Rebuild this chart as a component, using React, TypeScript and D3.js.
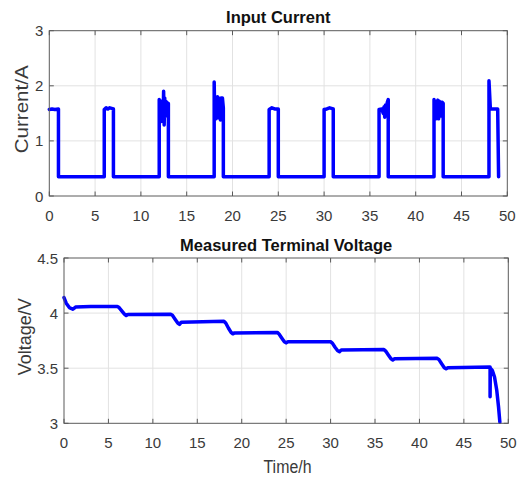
import React from "react";
import * as d3 from "d3";

const xTicks = [0, 5, 10, 15, 20, 25, 30, 35, 40, 45, 50];
const currentTicks = [0, 1, 2, 3];
const voltageTicks = [3, 3.5, 4, 4.5];

const currentPoints: [number, number][] = [
  [0, 1.57], [0.3, 1.58], [0.6, 1.57], [1.0, 1.58], [1.0, 0.35],
  [6.0, 0.35], [6.0, 1.57], [6.2, 1.6], [6.4, 1.58], [6.6, 1.6], [7.0, 1.58], [7.0, 0.35],
  [12.0, 0.35], [12.0, 1.75], [12.06, 1.4], [12.12, 1.7], [12.18, 1.35], [12.24, 1.72], [12.3, 1.45],
  [12.36, 1.68], [12.42, 1.4], [12.48, 1.9], [12.54, 1.29], [12.6, 1.78], [12.66, 1.45], [12.72, 1.72],
  [12.78, 1.5], [12.85, 1.7], [12.92, 1.55], [13.0, 1.68], [13.0, 0.35],
  [18.0, 0.35], [18.0, 2.07], [18.06, 1.45], [18.12, 1.8], [18.18, 1.4], [18.24, 1.78], [18.3, 1.5],
  [18.36, 1.8], [18.42, 1.42], [18.5, 1.78], [18.56, 1.45], [18.62, 1.75], [18.68, 1.38], [18.75, 1.78],
  [18.82, 1.5], [18.9, 1.78], [19.0, 1.6], [19.0, 0.35],
  [24.0, 0.35], [24.0, 1.57], [24.3, 1.6], [24.6, 1.58], [25.0, 1.58], [25.0, 0.35],
  [30.0, 0.35], [30.0, 1.57], [30.3, 1.58], [30.6, 1.6], [31.0, 1.58], [31.0, 0.35],
  [36.0, 0.35], [36.0, 1.57], [36.3, 1.58], [36.45, 1.5], [36.55, 1.62], [36.62, 1.43], [36.7, 1.65],
  [36.8, 1.6], [36.9, 1.7], [37.0, 1.75], [37.0, 0.35],
  [42.0, 0.35], [42.0, 1.75], [42.07, 1.45], [42.14, 1.72], [42.2, 1.4], [42.28, 1.7], [42.35, 1.5],
  [42.42, 1.74], [42.5, 1.4], [42.58, 1.72], [42.66, 1.48], [42.74, 1.7], [42.82, 1.45], [42.9, 1.7],
  [43.0, 1.68], [43.0, 0.35],
  [48.0, 0.35], [48.0, 2.09], [48.15, 1.58], [48.5, 1.58], [48.95, 1.58], [49.05, 0.35],
];

const voltagePoints: [number, number][] = [
  [0, 4.14], [0.25, 4.09], [0.6, 4.05], [1.0, 4.035], [1.3, 4.055], [3, 4.06], [6.0, 4.06],
  [6.2, 4.05], [6.5, 4.02], [6.8, 3.99], [7.0, 3.978], [7.2, 3.988], [12.0, 3.99],
  [12.2, 3.98], [12.5, 3.945], [12.8, 3.91], [13.0, 3.898], [13.2, 3.918], [18.0, 3.925],
  [18.2, 3.91], [18.5, 3.865], [18.8, 3.825], [19.0, 3.812], [19.2, 3.82], [24.0, 3.825],
  [24.2, 3.81], [24.5, 3.775], [24.8, 3.74], [25.0, 3.73], [25.2, 3.74], [30.0, 3.74],
  [30.2, 3.728], [30.5, 3.69], [30.8, 3.658], [31.0, 3.65], [31.2, 3.665], [36.0, 3.67],
  [36.2, 3.655], [36.5, 3.62], [36.8, 3.585], [37.0, 3.575], [37.2, 3.585], [42.0, 3.59],
  [42.2, 3.578], [42.5, 3.54], [42.8, 3.505], [43.0, 3.495], [43.2, 3.505], [47.95, 3.51],
  [47.95, 3.24], [47.98, 3.5], [48.2, 3.48], [48.45, 3.42], [48.7, 3.3], [48.9, 3.15], [49.05, 3.01],
];

const FONT = "'Liberation Sans', Arial, Helvetica, sans-serif";
const TXT = "#3a3a3a";
const BOX = "#5a5a5a";
const GRID = "#e2e2e2";
const BLUE = "#0000ff";

type PanelProps = {
  left: number; right: number; top: number; bottom: number;
  yDomain: [number, number]; yTicks: number[];
  points: [number, number][];
  title: string; ylabel: string; ylabelLen: number; ylabelX: number; ylabelSize: number;
};

function Panel(p: PanelProps) {
  const x = d3.scaleLinear().domain([0, 50]).range([p.left, p.right]);
  const y = d3.scaleLinear().domain(p.yDomain).range([p.bottom, p.top]);
  const line = d3.line<[number, number]>().x((d) => x(d[0])).y((d) => y(d[1]));
  const tl = 4.5;
  const cx = (p.left + p.right) / 2;
  const cy = (p.top + p.bottom) / 2;
  return (
    <g>
      <rect x={p.left} y={p.top} width={p.right - p.left} height={p.bottom - p.top} fill="#fff" />
      {xTicks.slice(1, -1).map((t) => (
        <line key={"gx" + t} x1={x(t)} x2={x(t)} y1={p.top} y2={p.bottom} stroke={GRID} strokeWidth={1} />
      ))}
      {p.yTicks.slice(1, -1).map((t) => (
        <line key={"gy" + t} x1={p.left} x2={p.right} y1={y(t)} y2={y(t)} stroke={GRID} strokeWidth={1} />
      ))}
      <path d={line(p.points) || ""} fill="none" stroke={BLUE} strokeWidth={3.5} strokeLinejoin="round" strokeLinecap="round" />
      <rect x={p.left} y={p.top} width={p.right - p.left} height={p.bottom - p.top} fill="none" stroke={BOX} strokeWidth={1} />
      {xTicks.map((t) => (
        <g key={"tx" + t}>
          <line x1={x(t)} x2={x(t)} y1={p.bottom} y2={p.bottom - tl} stroke={BOX} />
          <line x1={x(t)} x2={x(t)} y1={p.top} y2={p.top + tl} stroke={BOX} />
          <text x={x(t)} y={p.bottom + 25} textAnchor="middle" fontFamily={FONT} fontSize={15} fill={TXT}>{t}</text>
        </g>
      ))}
      {p.yTicks.map((t) => (
        <g key={"ty" + t}>
          <line x1={p.left} x2={p.left + tl} y1={y(t)} y2={y(t)} stroke={BOX} />
          <line x1={p.right} x2={p.right - tl} y1={y(t)} y2={y(t)} stroke={BOX} />
          <text x={p.left - 6} y={y(t) + 5.5} textAnchor="end" fontFamily={FONT} fontSize={15} fill={TXT}>{t}</text>
        </g>
      ))}
      <text x={cx} y={p.top - 7.5} textAnchor="middle" fontFamily={FONT} fontSize={16.5} fontWeight="bold" fill="#111">{p.title}</text>
      <text transform={`translate(${p.ylabelX},${cy - 4}) rotate(-90)`} textAnchor="middle" fontFamily={FONT}
        fontSize={p.ylabelSize} fill={TXT} textLength={p.ylabelLen} lengthAdjust="spacingAndGlyphs">{p.ylabel}</text>
    </g>
  );
}

export default function App() {
  return (
    <svg width={524} height={477} style={{ position: "absolute", left: 0, top: 0, background: "#fff" }}>
      <rect x={0} y={0} width={524} height={477} fill="#fff" />
      <Panel left={49.3} right={507.3} top={30.7} bottom={196} yDomain={[0, 3]} yTicks={currentTicks}
        points={currentPoints} title="Input Current" ylabel="Current/A" ylabelLen={88} ylabelX={27.5} ylabelSize={19} />
      <Panel left={64} right={508.3} top={258} bottom={423.3} yDomain={[3, 4.5]} yTicks={voltageTicks}
        points={voltagePoints} title="Measured Terminal Voltage" ylabel="Voltage/V" ylabelLen={77} ylabelX={30.5} ylabelSize={17.5} />
      <text x={287.5} y={473} textAnchor="middle" fontFamily={FONT} fontSize={18} fill={TXT}
        textLength={48} lengthAdjust="spacingAndGlyphs">Time/h</text>
    </svg>
  );
}
